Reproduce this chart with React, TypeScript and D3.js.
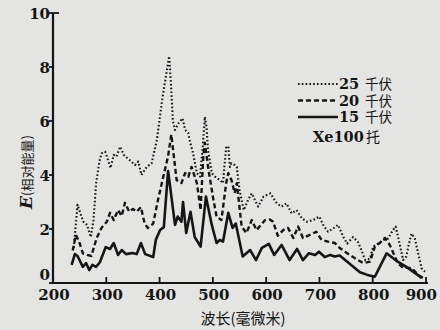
import React from "react";
import * as d3 from "d3";

const xTicks = [200, 300, 400, 500, 600, 700, 800, 900];
const yTicks = [0, 2, 4, 6, 8, 10];

const wl15 = [235, 241, 246, 256, 262, 268, 274, 281, 288, 299, 307, 314, 322, 329, 337, 349, 357, 365, 373, 388, 393, 401, 408, 416, 429, 434, 441, 444, 450, 458, 466, 477, 487, 498, 507, 513, 519, 529, 537, 543, 556, 570, 581, 592, 605, 615, 629, 644, 658, 669, 680, 692, 699, 710, 720, 729, 738, 776, 790, 804, 826, 847, 866, 892];
const e15 = [0.67, 1.07, 1.0, 0.6, 0.74, 0.48, 0.67, 0.6, 0.77, 1.33, 1.26, 1.48, 1.04, 1.22, 1.07, 1.11, 1.07, 1.48, 1.07, 0.96, 1.6, 1.96, 2.07, 4.15, 2.15, 2.46, 2.27, 3.0, 1.85, 2.64, 1.7, 1.35, 3.2, 2.15, 1.48, 1.6, 1.53, 2.6, 2.04, 2.2, 0.98, 1.22, 0.85, 1.3, 1.45, 1.04, 1.41, 0.85, 1.26, 0.85, 1.1, 1.04, 1.16, 0.96, 1.04, 0.98, 1.02, 0.4, 0.3, 0.23, 1.1, 0.79, 0.56, 0.19];

const wl20 = [237, 243, 249, 256, 264, 272, 282, 291, 301, 307, 314, 322, 329, 335, 343, 350, 357, 365, 372, 378, 388, 397, 407, 416, 422, 432, 441, 448, 454, 460, 470, 477, 482, 485, 491, 500, 507, 516, 525, 529, 535, 541, 545, 554, 563, 573, 582, 598, 607, 613, 622, 632, 641, 651, 660, 669, 682, 694, 704, 716, 729, 738, 748, 757, 772, 782, 795, 804, 813, 823, 832, 847, 857, 873, 885, 894];
const e20 = [1.2, 1.78, 1.53, 1.1, 1.04, 1.0, 1.67, 2.04, 2.27, 2.6, 2.33, 2.7, 2.48, 2.97, 2.64, 2.74, 2.64, 2.81, 2.2, 2.04, 2.2, 3.07, 3.94, 4.7, 5.5, 3.81, 3.7, 4.07, 3.94, 4.3, 3.7, 2.7, 4.68, 5.2, 4.3, 3.2, 2.46, 2.33, 3.7, 4.07, 3.81, 3.33, 3.7, 2.09, 1.85, 2.33, 1.96, 2.33, 2.35, 2.27, 1.75, 1.96, 2.04, 1.67, 2.09, 1.67, 1.78, 1.9, 1.6, 1.53, 1.48, 1.3, 1.16, 1.04, 0.85, 0.74, 0.79, 1.35, 1.48, 1.67, 1.41, 0.74, 0.56, 0.56, 0.3, 0.19];

const wl25 = [239, 246, 251, 257, 264, 271, 276, 281, 287, 291, 298, 302, 308, 314, 319, 326, 333, 344, 354, 360, 366, 376, 385, 395, 405, 418, 421, 425, 429, 435, 443, 448, 454, 457, 463, 470, 476, 481, 485, 488, 491, 498, 504, 513, 519, 525, 529, 532, 535, 541, 545, 550, 558, 566, 573, 579, 585, 595, 608, 620, 629, 638, 648, 657, 667, 676, 688, 700, 707, 716, 726, 735, 745, 752, 763, 772, 776, 786, 795, 801, 810, 820, 829, 838, 843, 849, 857, 863, 868, 873, 879, 886, 892, 898];
const e25 = [1.3, 2.9, 2.6, 2.27, 2.15, 1.7, 2.33, 3.7, 4.5, 4.8, 4.86, 4.63, 4.26, 4.74, 4.68, 5.05, 4.74, 4.55, 4.37, 4.5, 4.0, 4.3, 4.43, 5.3, 6.8, 8.4, 7.5, 6.0, 5.67, 5.9, 6.1, 5.67, 5.55, 5.24, 4.8, 4.07, 3.94, 5.05, 6.15, 5.8, 4.93, 4.07, 3.94, 3.81, 3.7, 5.05, 5.05, 4.3, 4.43, 4.37, 4.3, 3.44, 2.7, 3.07, 3.32, 3.07, 2.83, 3.2, 3.32, 2.95, 2.83, 2.95, 2.58, 2.7, 2.4, 2.27, 2.33, 2.46, 2.15, 1.9, 2.02, 2.15, 1.7, 1.46, 1.7, 1.53, 1.35, 0.85, 0.91, 1.35, 1.46, 1.59, 1.65, 1.96, 2.09, 1.59, 0.85, 0.98, 1.46, 1.83, 1.65, 1.04, 0.54, 0.42];

const legendValues = ["25", "20", "15"];
const legendUnit = "千伏";
const gasName = "Xe100";
const gasUnit = "托";

const W = 440;
const H = 330;
const INK = "#151515";
const BG = "#e4e4e2";
const SERIF = "'DejaVu Serif', 'Liberation Serif', serif";
const CJK = "'Noto Sans CJK SC', sans-serif";

export default function App() {
  const x = d3.scaleLinear().domain([200, 900]).range([53, 426]);
  const y = d3.scaleLinear().domain([0, 10]).range([283, 13]);
  const line = d3
    .line<[number, number]>()
    .x((d) => x(d[0]))
    .y((d) => y(d[1]));
  const zip = (a: number[], b: number[]) => a.map((v, i) => [v, b[i]] as [number, number]);

  const series = [
    { d: zip(wl25, e25), dash: "1.6 2.2", w: 2.1 },
    { d: zip(wl20, e20), dash: "5 3", w: 2.4 },
    { d: zip(wl15, e15), dash: undefined as string | undefined, w: 2.6 },
  ];

  return (
    <svg
      width={W}
      height={H}
      style={{ position: "absolute", left: 0, top: 0, background: BG }}
    >
      <rect x={0} y={0} width={W} height={H} fill={BG} />
      {/* axes */}
      <line x1={x(200)} x2={x(200)} y1={y(0) + 1} y2={y(10)} stroke={INK} strokeWidth={2.2} />
      <line x1={x(200) - 1} x2={x(900) + 2} y1={y(0)} y2={y(0)} stroke={INK} strokeWidth={2.2} />
      {yTicks.map((t) => (
        <g key={"y" + t}>
          <line
            x1={x(200) - 4}
            x2={x(200) + (t === 10 ? 6 : 0)}
            y1={y(t)}
            y2={y(t)}
            stroke={INK}
            strokeWidth={1.8}
          />
          <text
            x={x(200) - 3}
            y={t === 0 ? y(t) - 3 : y(t) + 6}
            textAnchor="end"
            fontFamily={SERIF}
            fontWeight="bold"
            fontSize={15}
            fill={INK}
          >
            {t}
          </text>
        </g>
      ))}
      {xTicks.map((t, i) => {
        const last = i === xTicks.length - 1;
        return (
          <g key={"x" + t}>
            {t > 200 && (
              <line x1={x(t)} x2={x(t)} y1={y(0)} y2={y(0) - 6} stroke={INK} strokeWidth={1.8} />
            )}
            <text
              x={last ? W - 3 : x(t) + 1}
              y={300}
              textAnchor={last ? "end" : "middle"}
              fontFamily={SERIF}
              fontWeight="bold"
              fontSize={15}
              fill={INK}
            >
              {t}
            </text>
          </g>
        );
      })}
      {/* series */}
      {series.map((s, i) => (
        <path
          key={i}
          d={line(s.d) || ""}
          fill="none"
          stroke={INK}
          strokeWidth={s.w}
          strokeDasharray={s.dash}
          strokeLinejoin="round"
        />
      ))}
      {/* legend */}
      {series.map((s, i) => (
        <g key={"lg" + i}>
          <line
            x1={298}
            x2={338}
            y1={84 + i * 16.5}
            y2={84 + i * 16.5}
            stroke={INK}
            strokeWidth={s.w}
            strokeDasharray={s.dash}
          />
          <text
            x={339}
            y={89 + i * 16.5}
            fontSize={14.5}
            fontFamily={SERIF}
            fontWeight="bold"
            fill={INK}
          >
            {legendValues[i]}
          </text>
          <text x={365} y={89 + i * 16.5} fontSize={13.5} fontFamily={CJK} fill={INK}>
            {legendUnit}
          </text>
        </g>
      ))}
      <text x={313} y={142} fontSize={14.5} fontFamily={SERIF} fontWeight="bold" fill={INK}>
        {gasName}
      </text>
      <text x={366} y={142} fontSize={14} fontFamily={CJK} fill={INK}>
        {gasUnit}
      </text>
      {/* axis titles */}
      <text transform="translate(32,172) rotate(-90)" textAnchor="middle" fill={INK}>
        <tspan fontFamily={SERIF} fontStyle="italic" fontWeight="bold" fontSize={17}>
          E
        </tspan>
        <tspan fontFamily={CJK} fontSize={13}>
          (相对能量)
        </tspan>
      </text>
      <text x={243} y={324} textAnchor="middle" fill={INK} fontFamily={CJK} fontSize={15}>
        波长(毫微米)
      </text>
    </svg>
  );
}
